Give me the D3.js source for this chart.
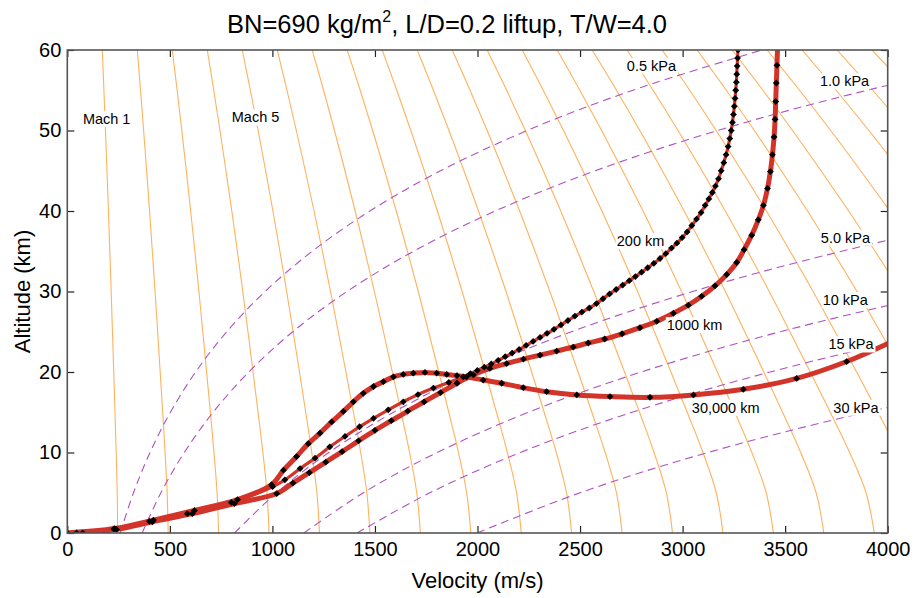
<!DOCTYPE html>
<html>
<head>
<meta charset="utf-8">
<script src="https://cdn.jsdelivr.net/npm/d3@7"></script>
<style>
  body { margin: 0; background: #fff; }
  text { font-family: "Liberation Sans", Arial, Helvetica, sans-serif; }
</style>
</head>
<body>
<div id="chart"></div>
<script>
// Altitude grid (km) for the background curves
const altGrid = [0, 5, 10, 15, 20, 25, 30, 35, 40, 45, 50, 55, 60];
// Speed of sound (m/s) at each grid altitude -> constant Mach lines
const soundSpeed = [245.9, 243.4, 238.4, 232.5, 226.4, 220.2, 213.9, 207.3, 200.5, 193.4, 186.1, 178.5, 170.6];
// Atmospheric density (kg/m^3) at each grid altitude -> constant dynamic pressure lines
const density = [0.01503, 0.009597, 0.006150, 0.003956, 0.002554, 0.001655, 0.0010754,
                 0.0007015, 0.0004594, 0.0003018, 0.0001989, 0.0001315, 0.0000872];

const machNumbers = [1, 2, 3, 4, 5, 6, 7, 8, 9, 10, 11, 12, 13, 14, 15, 16, 17, 18, 19, 20, 21, 22, 23, 24];
const pressureLevels = [0.5, 1.0, 5.0, 10, 15, 30]; // kPa

// Trajectories: [velocity m/s, altitude km]
const traj200 = [
  [45, 0], [227, 0.5], [400, 1.45], [585, 2.4], [800, 3.8], [1001, 5.75],
  [1061, 6.6], [1135, 8.0], [1208, 9.3], [1280, 10.7], [1354, 12.0], [1425, 13.2],
  [1493, 14.25], [1565, 15.3], [1638, 16.3], [1710, 17.2], [1785, 18.0], [1860, 18.7],
  [1931, 19.4], [1965, 19.8], [1999, 20.2], [2033, 20.6], [2067, 21.0], [2101, 21.45],
  [2135, 21.9], [2169, 22.35], [2203, 22.8], [2237, 23.3], [2271, 23.8], [2305, 24.3],
  [2339, 24.8], [2373, 25.3], [2407, 25.85], [2441, 26.4], [2475, 26.95], [2509, 27.45],
  [2545, 27.95], [2580, 28.5], [2612, 29.1], [2644, 29.7], [2676, 30.25], [2708, 30.8],
  [2740, 31.35], [2770, 31.85], [2800, 32.4], [2830, 32.95], [2860, 33.5], [2890, 34.1],
  [2918, 34.7], [2946, 35.4], [2972, 36.0], [2998, 36.7], [3022, 37.4], [3045, 38.2],
  [3068, 39.0], [3090, 39.8], [3110, 40.7], [3128, 41.5], [3145, 42.3], [3160, 43.1],
  [3175, 44.0], [3188, 45.0], [3201, 46.0], [3212, 47.0], [3222, 48.0], [3230, 49.0],
  [3237, 50.0], [3243, 51.0], [3248, 52.0], [3252, 53.0], [3256, 54.0], [3259, 55.0],
  [3262, 56.0], [3264, 57.0], [3266, 58.0], [3268, 59.0], [3270, 60.0], [3272, 61.0]
];
const traj1000 = [
  [75, 0], [240, 0.45], [415, 1.4], [610, 2.4], [815, 3.65], [1021, 4.9],
  [1100, 6.2], [1180, 7.5], [1260, 8.8], [1340, 10.1], [1420, 11.45], [1500, 12.75],
  [1580, 13.95], [1660, 15.15], [1740, 16.3], [1820, 17.45], [1900, 18.6], [1980, 19.65],
  [2060, 20.45], [2142, 21.05], [2224, 21.6], [2305, 22.1], [2386, 22.6], [2467, 23.1],
  [2540, 23.6], [2620, 24.1], [2705, 24.75], [2792, 25.5], [2874, 26.3], [2955, 27.3],
  [3028, 28.3], [3093, 29.4], [3158, 30.7], [3215, 32.1], [3264, 33.6], [3300, 35.2],
  [3337, 37.0], [3369, 38.9], [3394, 40.7], [3414, 42.8], [3428, 44.9], [3438, 47.0],
  [3446, 49.2], [3451, 51.4], [3454, 53.6], [3457, 55.9], [3460, 58.1], [3463, 60.3]
];
const traj30000 = [
  [0, 0], [230, 0.55], [420, 1.6], [620, 2.8], [830, 4.15], [996, 6.0],
  [1054, 7.8], [1118, 9.5], [1175, 11.1], [1232, 12.4], [1289, 13.8], [1346, 15.1],
  [1395, 16.3], [1443, 17.35], [1493, 18.2], [1541, 18.8], [1590, 19.4], [1638, 19.7],
  [1687, 19.85], [1744, 19.95], [1801, 19.85], [1850, 19.7], [1900, 19.55], [1947, 19.4],
  [2028, 19.0], [2118, 18.6], [2223, 18.05], [2337, 17.55], [2484, 17.15], [2646, 16.95],
  [2841, 16.85], [3053, 17.15], [3296, 17.85], [3556, 19.2], [3800, 21.3], [4040, 24.0]
];

const trajectories = [
  { name: '30,000 km', data: traj30000, width: 5 },
  { name: '1000 km', data: traj1000, width: 5 },
  { name: '200 km', data: traj200, width: 3.2 }
];

// Text annotations placed in data units (left edge, baseline)
const annotations = [
  { text: 'Mach 1', v: 76, h: 50.8 },
  { text: 'Mach 5', v: 802, h: 51.0 },
  { text: '0.5 kPa', v: 2728, h: 57.4 },
  { text: '1.0 kPa', v: 3670, h: 55.5 },
  { text: '200 km', v: 2679, h: 35.65 },
  { text: '5.0 kPa', v: 3674, h: 36.06 },
  { text: '10 kPa', v: 3683, h: 28.3 },
  { text: '1000 km', v: 2923, h: 25.2 },
  { text: '15 kPa', v: 3711, h: 22.8 },
  { text: '30,000 km', v: 3045, h: 14.94 },
  { text: '30 kPa', v: 3735, h: 14.94 }
];

const xTicks = [0, 500, 1000, 1500, 2000, 2500, 3000, 3500, 4000];
const yTicks = [0, 10, 20, 30, 40, 50, 60];

const W = 915, H = 598;
const x = d3.scaleLinear().domain([0, 4000]).range([67.3, 887.7]);
const y = d3.scaleLinear().domain([0, 60]).range([533, 50]);

const svg = d3.select('#chart').append('svg')
  .attr('width', W).attr('height', H);
svg.append('rect').attr('width', W).attr('height', H).attr('fill', '#fff');

svg.append('defs').append('clipPath').attr('id', 'plot-clip')
  .append('rect')
  .attr('x', x(0)).attr('y', y(60))
  .attr('width', x(4000) - x(0)).attr('height', y(0) - y(60));

const plot = svg.append('g').attr('clip-path', 'url(#plot-clip)');

const line = d3.line()
  .x(d => x(d[0]))
  .y(d => y(d[1]))
  .curve(d3.curveCatmullRom.alpha(0.5));

// Mach lines
machNumbers.forEach(m => {
  const pts = altGrid.map((h, i) => [m * soundSpeed[i], h]);
  plot.append('path')
    .attr('d', line(pts))
    .attr('fill', 'none')
    .attr('stroke', '#ffb25e')
    .attr('stroke-width', 1.1);
});

// Dynamic pressure lines
pressureLevels.forEach(q => {
  const pts = altGrid.map((h, i) => [Math.sqrt(2 * q * 1000 / density[i]), h]);
  plot.append('path')
    .attr('d', line(pts))
    .attr('fill', 'none')
    .attr('stroke', '#b050c0')
    .attr('stroke-width', 1.1)
    .attr('stroke-dasharray', '8,5');
});

// Trajectories
trajectories.forEach(t => {
  plot.append('path')
    .attr('d', line(t.data))
    .attr('fill', 'none')
    .attr('stroke', '#d2342a')
    .attr('stroke-width', t.width)
    .attr('stroke-linejoin', 'round');
});
trajectories.forEach(t => {
  plot.append('g').selectAll('path')
    .data(t.data)
    .join('path')
    .attr('transform', d => `translate(${x(d[0])},${y(d[1])})`)
    .attr('d', 'M0,-3.4L3.4,0L0,3.4L-3.4,0Z')
    .attr('fill', '#000');
});

// Annotations with white background
annotations.forEach(a => {
  const g = svg.append('g');
  const t = g.append('text')
    .attr('x', x(a.v)).attr('y', y(a.h))
    .attr('font-size', 14.5)
    .attr('fill', '#000')
    .text(a.text);
  const b = t.node().getBBox();
  g.insert('rect', 'text')
    .attr('x', b.x - 1).attr('y', b.y)
    .attr('width', b.width + 2).attr('height', b.height)
    .attr('fill', '#fff');
});

// Axes with inward ticks on all sides
const axG = svg.append('g');
axG.append('g').attr('transform', `translate(0,${y(0)})`)
  .call(d3.axisBottom(x).tickValues(xTicks).tickFormat(d3.format('d'))
    .tickSizeInner(-7).tickSizeOuter(0).tickPadding(9))
  .call(g => g.select('.domain').remove());
axG.append('g').attr('transform', `translate(0,${y(60)})`)
  .call(d3.axisTop(x).tickValues(xTicks).tickSizeInner(-7).tickSizeOuter(0).tickFormat(''))
  .call(g => g.select('.domain').remove());
axG.append('g').attr('transform', `translate(${x(0)},0)`)
  .call(d3.axisLeft(y).tickValues(yTicks).tickSizeInner(-7).tickSizeOuter(0).tickPadding(6))
  .call(g => g.select('.domain').remove());
axG.append('g').attr('transform', `translate(${x(4000)},0)`)
  .call(d3.axisRight(y).tickValues(yTicks).tickSizeInner(-7).tickSizeOuter(0).tickFormat(''))
  .call(g => g.select('.domain').remove());

axG.selectAll('.tick line').attr('stroke', '#222').attr('stroke-width', 1.2);
axG.selectAll('.tick text')
  .attr('font-size', 20)
  .attr('fill', '#000')
  .attr('font-family', '"Liberation Sans", Arial, sans-serif');

svg.append('rect')
  .attr('x', x(0)).attr('y', y(60))
  .attr('width', x(4000) - x(0)).attr('height', y(0) - y(60))
  .attr('fill', 'none')
  .attr('stroke', '#555')
  .attr('stroke-width', 1.6);

// Title and axis labels
const title = svg.append('text')
  .attr('x', 227).attr('y', 33)
  .attr('font-size', 25.5)
  .attr('fill', '#000');
title.append('tspan').text('BN=690 kg/m');
title.append('tspan').attr('font-size', 16).attr('dy', -11).text('2');
title.append('tspan').attr('dy', 11).text(', L/D=0.2 liftup, T/W=4.0');

svg.append('text')
  .attr('x', (x(0) + x(4000)) / 2).attr('y', 588)
  .attr('text-anchor', 'middle')
  .attr('font-size', 22)
  .attr('fill', '#000')
  .text('Velocity (m/s)');

svg.append('text')
  .attr('transform', `translate(30,${(y(0) + y(60)) / 2}) rotate(-90)`)
  .attr('text-anchor', 'middle')
  .attr('font-size', 22)
  .attr('fill', '#000')
  .text('Altitude (km)');
</script>
</body>
</html>
